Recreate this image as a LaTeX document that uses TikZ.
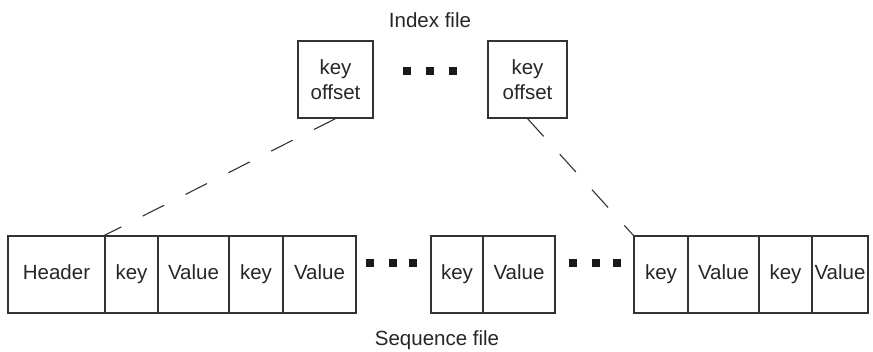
\documentclass[tikz,border=0pt]{standalone}
\usepackage{fontspec}
\setmainfont{Liberation Sans}
\begin{document}
\begin{tikzpicture}[x=1pt,y=-1pt,
  line/.style={draw=black!80, line width=1.2pt},
  cell/.style={line, rectangle, inner sep=0pt, minimum height=77pt, text=black!85,
    text height=14pt, text depth=4pt,
    font=\fontsize{20.5}{24}\selectfont},
  ibox/.style={line, rectangle, inner sep=0pt, minimum width=76pt, minimum height=77pt,
    align=center, text=black!85, font=\fontsize{20.5}{25}\selectfont},
  dot/.style={rectangle, fill=black!90, inner sep=0pt, minimum size=8pt},
  lbl/.style={text=black!85, font=\fontsize{20.5}{24}\selectfont},
  link/.style={draw=black!80, line width=1.1pt, dash pattern=on 24pt off 24pt}]
\useasboundingbox (0,0) rectangle (873,351);
% labels
\node[lbl] (idx) at (430,20) {Index file};
\node[lbl] (seq) at (437,340) {Sequence file};
% index boxes
\node[ibox, minimum width=75pt] (i1) at (335.5,79.5) {key\\offset};
\node[ibox, minimum width=79pt] (i2) at (527.5,79.5) {key\\offset};
\node[dot] (d1) at (407,71) {};
\node[dot] (d2) at (430,71) {};
\node[dot] (d3) at (453,71) {};
% sequence file group 1
\node[cell, minimum width=97pt] (h) at (56.5,274.5) {Header};
\node[cell, minimum width=53pt] (k1) at (131.5,274.5) {key};
\node[cell, minimum width=71pt] (v1) at (193.5,274.5) {Value};
\node[cell, minimum width=54pt] (k2) at (256,274.5) {key};
\node[cell, minimum width=73pt] (v2) at (319.5,274.5) {Value};
\node[dot] (e1) at (370,263) {};
\node[dot] (e2) at (393,263) {};
\node[dot] (e3) at (413,263) {};
% group 2
\node[cell, minimum width=52pt] (k3) at (457,274.5) {key};
\node[cell, minimum width=72pt] (v3) at (519,274.5) {Value};
\node[dot] (f1) at (573,263) {};
\node[dot] (f2) at (596,263) {};
\node[dot] (f3) at (617,263) {};
% group 3
\node[cell, minimum width=54pt] (k4) at (661,274.5) {key};
\node[cell, minimum width=71pt] (v4) at (723.5,274.5) {Value};
\node[cell, minimum width=53pt] (k5) at (785.5,274.5) {key};
\node[cell, minimum width=56pt] (v5) at (840,274.5) {Value};
% dashed links
\draw[link] (i1.south) -- (k1.north west);
\draw[link] (i2.south) -- (k4.north west);
\end{tikzpicture}
\end{document}
